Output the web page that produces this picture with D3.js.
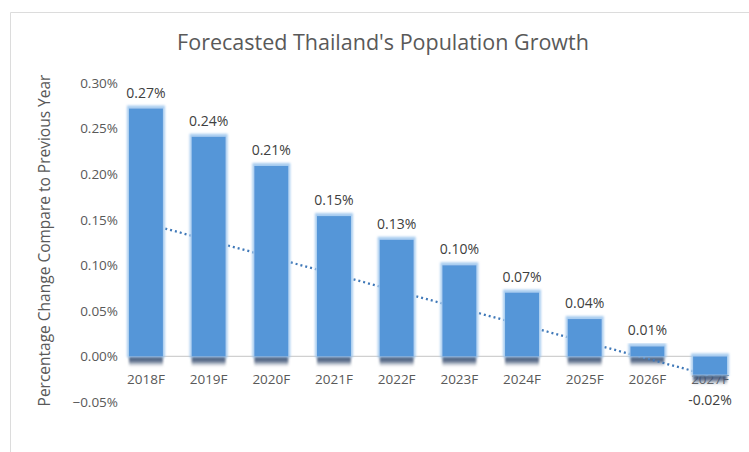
<!DOCTYPE html>
<html>
<head>
<meta charset="utf-8">
<script src="https://cdn.jsdelivr.net/npm/d3@7"></script>
<style>
  html, body { margin: 0; padding: 0; background: #fff; }
  svg { display: block; font-family: "Open Sans", Lato, sans-serif; }
</style>
</head>
<body>
<svg id="chart" width="749" height="452"></svg>
<script>
// ---- data ----
const categories = ["2018F","2019F","2020F","2021F","2022F","2023F","2024F","2025F","2026F","2027F"];
const growthPct  = [0.272, 0.241, 0.209, 0.154, 0.128, 0.100, 0.070, 0.041, 0.011, -0.020];
const valueLabels = ["0.27%","0.24%","0.21%","0.15%","0.13%","0.10%","0.07%","0.04%","0.01%","-0.02%"];
const yTicks = [-0.05, 0, 0.05, 0.10, 0.15, 0.20, 0.25, 0.30];
const trendEnds = [0.146, -0.021]; // dotted trend line at first and last category
const title = "Forecasted Thailand's Population Growth";
const yTitle = "Percentage Change Compare to Previous Year";

// ---- layout ----
const FONT = "'Open Sans', Lato, sans-serif";
const svg = d3.select("#chart");
const W = 749, H = 452;

// frame
svg.append("path").attr("d", `M10.5,${H} V12.5 H${W}`)
  .attr("fill", "none").attr("stroke", "#dcdcdc").attr("stroke-width", 1);

const y = d3.scaleLinear().domain([-0.05, 0.30]).range([402, 83]);
const x = d3.scaleBand().domain(categories).range([114.6, 741.4])
  .paddingInner(0.458).paddingOuter(0.229);
const bw = x.bandwidth();

const defs = svg.append("defs");
const glow = defs.append("filter").attr("id", "glow")
  .attr("x", "-30%").attr("y", "-30%").attr("width", "160%").attr("height", "160%");
glow.append("feFlood").attr("flood-color", "#a9cdf0").attr("result", "c");
glow.append("feComposite").attr("in", "c").attr("in2", "SourceAlpha").attr("operator", "in").attr("result", "c2");
glow.append("feOffset").attr("in", "c2").attr("dy", -1).attr("result", "o");
glow.append("feMorphology").attr("in", "o").attr("operator", "dilate").attr("radius", 1.5).attr("result", "d");
glow.append("feGaussianBlur").attr("in", "d").attr("stdDeviation", 1.2).attr("result", "b");
const m = glow.append("feMerge");
m.append("feMergeNode").attr("in", "b");
m.append("feMergeNode").attr("in", "SourceGraphic");

const sg = defs.append("linearGradient").attr("id", "shadow").attr("x1", 0).attr("x2", 0).attr("y1", 0).attr("y2", 1);
sg.append("stop").attr("offset", "0%").attr("stop-color", "#2f4566").attr("stop-opacity", 1);
sg.append("stop").attr("offset", "55%").attr("stop-color", "#44587a").attr("stop-opacity", 0.8);
sg.append("stop").attr("offset", "100%").attr("stop-color", "#9aa3b0").attr("stop-opacity", 0.1);

const blurS = defs.append("filter").attr("id", "sblur").attr("x", "-20%").attr("y", "-50%").attr("width", "140%").attr("height", "200%");
blurS.append("feGaussianBlur").attr("stdDeviation", 0.8);

// title
svg.append("text").attr("x", 383).attr("y", 50).attr("text-anchor", "middle")
  .attr("font-size", 21.5).attr("fill", "#595959").text(title);

// y axis title
svg.append("text")
  .attr("transform", `translate(50,${(73 + 408) / 2}) rotate(-90)`)
  .attr("text-anchor", "middle").attr("font-size", 15.5).attr("fill", "#595959")
  .text(yTitle);

// y tick labels
const yAxis = d3.axisLeft(y).tickValues(yTicks)
  .tickFormat(d => d3.format(".2f")(d) + "%").tickSize(0).tickPadding(0);
const ya = svg.append("g").attr("transform", "translate(118,0)").call(yAxis);
ya.select(".domain").remove();
ya.selectAll("text").attr("font-size", 13.5).attr("fill", "#595959")
  .attr("font-family", FONT);

// x labels (below bars, so the negative bar covers part of its label)
const xAxis = d3.axisBottom(x).tickSize(0).tickPadding(0);
const xa = svg.append("g").attr("transform", `translate(0,${y(0) + 28})`).call(xAxis);
xa.select(".domain").remove();
xa.selectAll("text").attr("font-size", 13.5).attr("fill", "#595959").attr("dy", 0)
  .attr("font-family", FONT);

// zero line
svg.append("line")
  .attr("x1", x(categories[0])).attr("x2", x(categories[categories.length - 1]) + bw)
  .attr("y1", y(0)).attr("y2", y(0)).attr("stroke", "#d0d0d0").attr("stroke-width", 1.2);

// shadows under bars
svg.append("g").selectAll("rect").data(categories).join("rect")
  .attr("x", d => x(d)).attr("width", bw)
  .attr("y", (d, i) => y(Math.min(0, growthPct[i])) - 1)
  .attr("height", 11)
  .attr("fill", "url(#shadow)").attr("filter", "url(#sblur)");

// trend line (dotted)
svg.append("line")
  .attr("x1", x(categories[0]) + bw / 2).attr("y1", y(trendEnds[0]))
  .attr("x2", x(categories[categories.length - 1]) + bw / 2).attr("y2", y(trendEnds[1]))
  .attr("stroke", "#3f78b8").attr("stroke-width", 2.3).attr("stroke-dasharray", "2,3");

// bars
svg.append("g").selectAll("rect").data(categories).join("rect")
  .attr("x", d => x(d)).attr("width", bw)
  .attr("y", (d, i) => y(Math.max(0, growthPct[i])))
  .attr("height", (d, i) => Math.abs(y(growthPct[i]) - y(0)))
  .attr("fill", "#5596d8").attr("filter", "url(#glow)");

// value labels
svg.append("g").selectAll("text").data(categories).join("text")
  .attr("x", d => x(d) + bw / 2)
  .attr("y", (d, i) => growthPct[i] >= 0 ? y(growthPct[i]) - 11 : y(0) + 48.5)
  .attr("text-anchor", "middle").attr("font-size", 14).attr("fill", "#404040")
  .text((d, i) => valueLabels[i]);
</script>
</body>
</html>
